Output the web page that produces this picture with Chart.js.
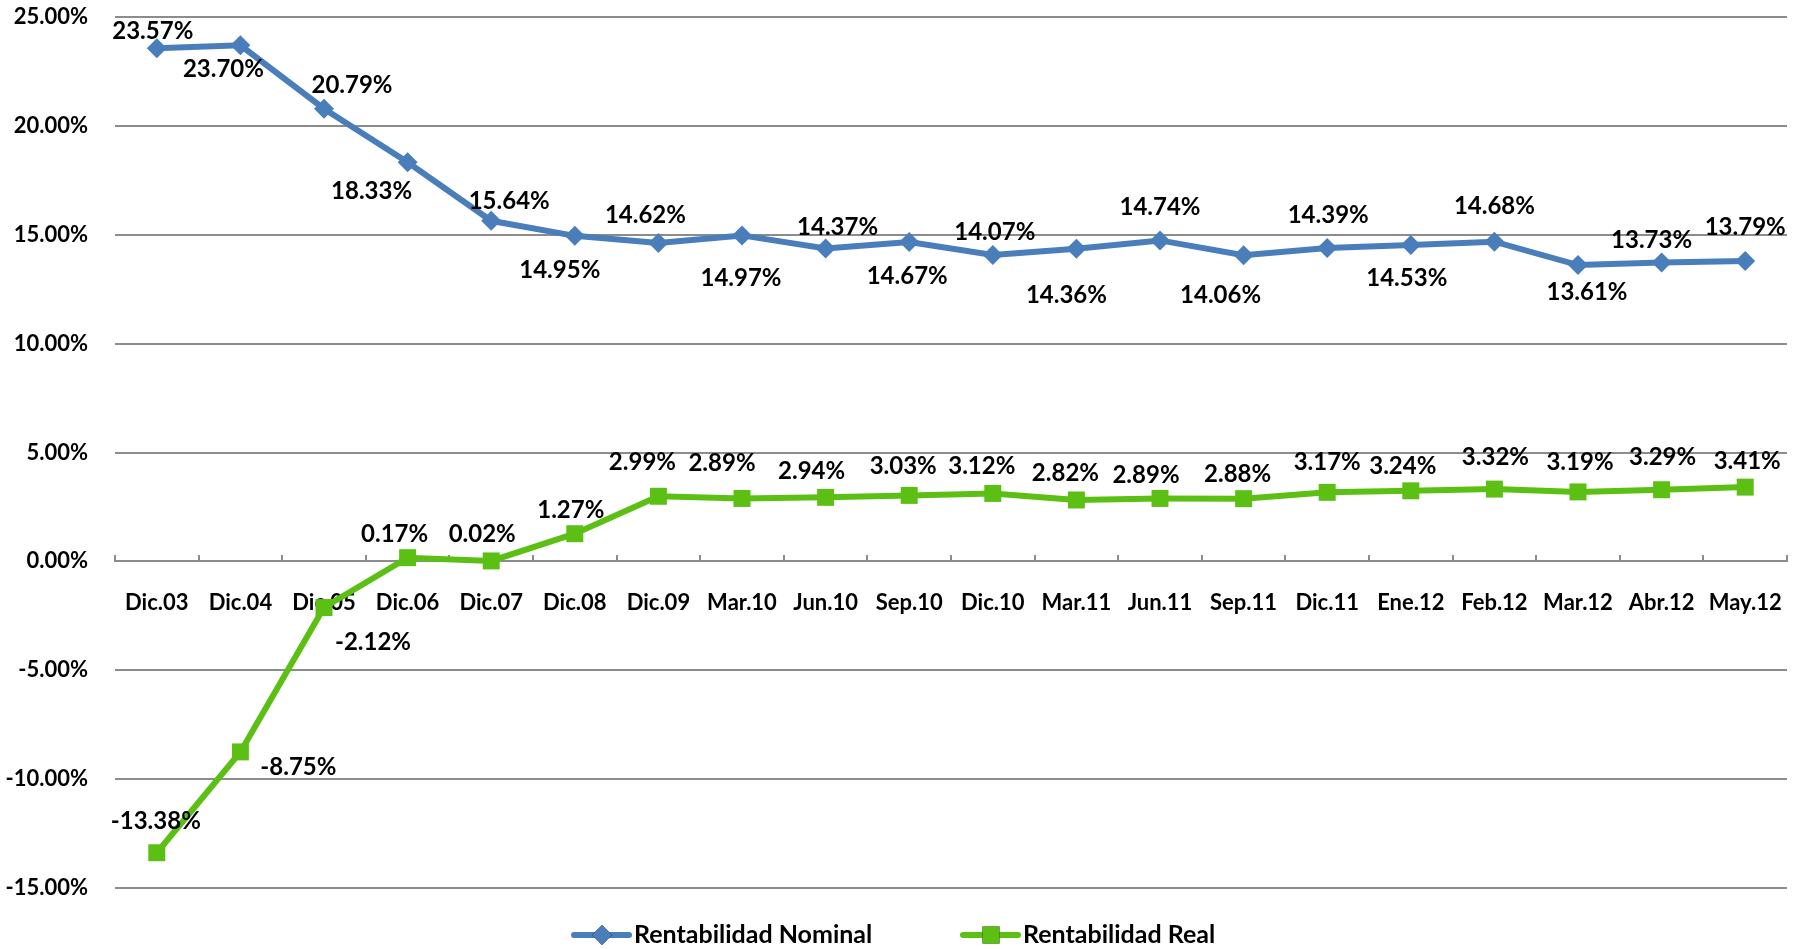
<!DOCTYPE html>
<html>
<head>
<meta charset="utf-8">
<script src="https://cdn.jsdelivr.net/npm/chart.js@4/dist/chart.umd.min.js"></script>
<style>
  body { margin: 0; background: #fff; }
  #wrap { width: 1805px; height: 949px; }
</style>
</head>
<body>
<div id="wrap"><canvas id="rentChart" width="1805" height="949"></canvas></div>
<script>
const categories = ['Dic.03', 'Dic.04', 'Dic.05', 'Dic.06', 'Dic.07', 'Dic.08', 'Dic.09', 'Mar.10', 'Jun.10', 'Sep.10',
    'Dic.10', 'Mar.11', 'Jun.11', 'Sep.11', 'Dic.11', 'Ene.12', 'Feb.12', 'Mar.12', 'Abr.12', 'May.12'];
const nominal = [23.57, 23.70, 20.79, 18.33, 15.64, 14.95, 14.62, 14.97, 14.37, 14.67,
    14.07, 14.36, 14.74, 14.06, 14.39, 14.53, 14.68, 13.61, 13.73, 13.79];
const real = [-13.38, -8.75, -2.12, 0.17, 0.02, 1.27, 2.99, 2.89, 2.94, 3.03,
    3.12, 2.82, 2.89, 2.88, 3.17, 3.24, 3.32, 3.19, 3.29, 3.41];
const yMin = -15;
const yMax = 25;
const yStep = 5;
const seriesNames = ['Rentabilidad Nominal', 'Rentabilidad Real'];

// label nudges [dx, dy] in px from each point, as placed in the original
const nominalLabelOffset = [[-4, -17], [-17, 24], [28, -23], [-36, 29], [18, -20], [-15, 34], [-13, -28], [-1, 43], [12, -21], [-2, 34],
    [2, -23], [-10, 47], [0, -33], [-23, 40], [1, -33], [-4, 33], [0, -35], [9, 27], [-10, -22], [0, -34]];
const realLabelOffset = [[-1, -31], [58, 15], [49, 35], [-13, -23], [-9, -27], [-4, -23], [-16, -34], [-20, -35], [-14, -26], [-6, -29],
    [-11, -27], [-11, -27], [-14, -23], [-6, -24], [0, -30], [-8, -25], [1, -32], [2, -30], [1, -32], [2, -26]];

const BLUE = '#4A7EBB';
const GREEN = '#5CBF14';
const GRID = '#8C8C8C';
const FONT = 'Lato, "Open Sans", sans-serif';

const pct = v => v.toFixed(2) + '%';

const valueLabels = {
    id: 'valueLabels',
    afterDatasetsDraw(chart) {
        const ctx = chart.ctx;
        ctx.save();
        ctx.font = 'bold 24px ' + FONT;
        ctx.fillStyle = '#000';
        ctx.textAlign = 'center';
        ctx.textBaseline = 'middle';
        chart.data.datasets.forEach((ds, di) => {
            const offs = di === 0 ? nominalLabelOffset : realLabelOffset;
            chart.getDatasetMeta(di).data.forEach((pt, i) => {
                ctx.fillText(pct(ds.data[i]), pt.x + offs[i][0], pt.y + offs[i][1]);
            });
        });
        ctx.restore();
    }
};

const lineLegend = {
    id: 'lineLegend',
    afterDraw(chart) {
        const ctx = chart.ctx;
        const y = 935;
        const items = [
            { x: 574, color: BLUE, style: 'rectRot', r: 10, label: seriesNames[0] },
            { x: 963, color: GREEN, style: 'rect', r: 12, label: seriesNames[1] }
        ];
        ctx.save();
        items.forEach(it => {
            ctx.strokeStyle = it.color;
            ctx.lineWidth = 6;
            ctx.lineCap = 'round';
            ctx.beginPath();
            ctx.moveTo(it.x, y);
            ctx.lineTo(it.x + 55, y);
            ctx.stroke();
            Chart.helpers.drawPoint(ctx, { pointStyle: it.style, radius: it.r, borderWidth: 0 }, it.x + 28, y);
            ctx.fillStyle = it.color;
            ctx.fill();
            ctx.fillStyle = '#000';
            ctx.font = 'bold 25px ' + FONT;
            ctx.textAlign = 'left';
            ctx.textBaseline = 'middle';
            ctx.fillText(it.label, it.x + 60, y);
        });
        ctx.restore();
    }
};

new Chart(document.getElementById('rentChart').getContext('2d'), {
    type: 'line',
    data: {
        labels: categories,
        datasets: [{
            label: seriesNames[0],
            data: nominal,
            borderColor: BLUE,
            backgroundColor: BLUE,
            borderWidth: 6,
            pointStyle: 'rectRot',
            pointRadius: 10,
            pointBorderWidth: 0,
            tension: 0
        }, {
            label: seriesNames[1],
            data: real,
            borderColor: GREEN,
            backgroundColor: GREEN,
            borderWidth: 6,
            pointStyle: 'rect',
            pointRadius: 12,
            pointBorderWidth: 0,
            tension: 0
        }]
    },
    options: {
        responsive: false,
        animation: false,
        devicePixelRatio: 1,
        layout: { padding: { top: 17, right: 18, bottom: 61, left: 0 } },
        plugins: {
            legend: { display: false },
            tooltip: { enabled: false }
        },
        scales: {
            x: {
                position: { y: 0 },
                offset: true,
                afterFit(scale) {
                    scale.paddingLeft = 0;
                    scale.paddingRight = 0;
                },
                grid: {
                    display: true,
                    offset: true,
                    drawOnChartArea: false,
                    drawTicks: true,
                    tickLength: -7,
                    color: GRID,
                    lineWidth: 2
                },
                border: { display: true, color: GRID, width: 2 },
                ticks: {
                    color: '#000',
                    padding: 35,
                    maxRotation: 0,
                    autoSkip: false,
                    font: { family: FONT, size: 22, weight: 'bold' }
                }
            },
            y: {
                min: yMin,
                max: yMax,
                afterFit(scale) { scale.width = 115; },
                grid: {
                    color: GRID,
                    lineWidth: 2,
                    drawTicks: true,
                    tickLength: 27,
                    tickColor: 'rgba(0,0,0,0)'
                },
                border: { display: false },
                ticks: {
                    stepSize: yStep,
                    padding: 0,
                    color: '#000',
                    font: { family: FONT, size: 22, weight: 'bold' },
                    callback: v => pct(v)
                }
            }
        }
    },
    plugins: [valueLabels, lineLegend]
});
</script>
</body>
</html>
